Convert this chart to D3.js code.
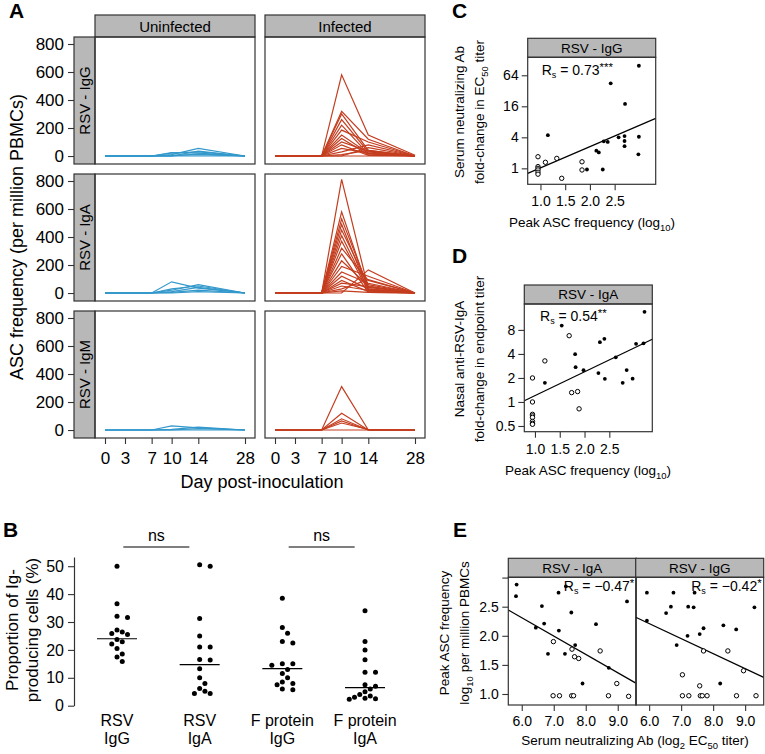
<!DOCTYPE html>
<html>
<head>
<meta charset="utf-8">
<script src="https://cdn.jsdelivr.net/npm/d3@7"></script>
<style>
body { margin: 0; background: #fff; }
svg { font-family: "Liberation Sans", Arial, Helvetica, sans-serif; }
</style>
</head>
<body>
<svg id="fig" width="765" height="754"></svg>
<script>
// ---- Panel A: ASC frequency per subject over time ----
const days = [0, 3, 7, 10, 14, 28];
const groups = ["Uninfected", "Infected"];
const isotypes = ["RSV - IgG", "RSV - IgA", "RSV - IgM"];
const aTicks = [0, 200, 400, 600, 800];

const uninfIgG = [
    [0, 0, 0, 25, 20, 0],
    [0, 0, 0, 10, 55, 0],
    [0, 0, 0, 20, 30, 0],
    [0, 0, 0, 0, 15, 0],
    [0, 0, 0, 5, 10, 0],
    [0, 0, 0, 0, 35, 0],
    [0, 0, 0, 0, 0, 0]
];
const uninfIgA = [
    [0, 0, 0, 80, 35, 0],
    [0, 0, 0, 20, 60, 0],
    [0, 0, 0, 30, 50, 0],
    [0, 0, 0, 10, 40, 0],
    [0, 0, 0, 5, 20, 0],
    [0, 0, 0, 0, 10, 0]
];
const uninfIgM = [
    [0, 0, 0, 30, 15, 0],
    [0, 0, 0, 5, 20, 0],
    [0, 0, 0, 0, 10, 0],
    [0, 0, 0, 0, 0, 0]
];
const infIgG = [
    [0, 0, 0, 580, 150, 5],
    [0, 0, 0, 320, 120, 0],
    [0, 0, 0, 300, 40, 0],
    [0, 0, 0, 260, 30, 0],
    [0, 0, 0, 220, 15, 0],
    [0, 0, 0, 185, 100, 0],
    [0, 0, 0, 150, 20, 0],
    [0, 0, 0, 125, 10, 0],
    [0, 0, 0, 100, 35, 0],
    [0, 0, 0, 80, 5, 0],
    [0, 0, 0, 55, 20, 0],
    [0, 0, 0, 30, 80, 0],
    [0, 0, 0, 10, 40, 0],
    [0, 0, 0, 0, 60, 0],
    [0, 0, 0, 0, 0, 0]
];
const infIgA = [
    [0, 0, 0, 812, 30, 0],
    [0, 0, 0, 580, 20, 0],
    [0, 0, 0, 530, 40, 0],
    [0, 0, 0, 490, 10, 0],
    [0, 0, 0, 450, 60, 0],
    [0, 0, 0, 410, 25, 0],
    [0, 0, 0, 370, 15, 0],
    [0, 0, 0, 320, 90, 0],
    [0, 0, 0, 280, 5, 0],
    [0, 0, 0, 230, 50, 0],
    [0, 0, 0, 190, 120, 0],
    [0, 0, 0, 150, 70, 0],
    [0, 0, 0, 120, 30, 0],
    [0, 0, 0, 90, 10, 0],
    [0, 0, 0, 70, 45, 0],
    [0, 0, 0, 50, 20, 0],
    [0, 0, 0, 30, 95, 0],
    [0, 0, 0, 15, 5, 0],
    [0, 0, 0, 0, 165, 0]
];
const infIgM = [
    [0, 0, 0, 310, 0, 0],
    [0, 0, 0, 120, 0, 0],
    [0, 0, 0, 80, 0, 0],
    [0, 0, 0, 65, 0, 0],
    [0, 0, 0, 50, 5, 0],
    [0, 0, 0, 0, 0, 0]
];

// ---- Panel B: proportion of Ig-producing cells ----
const bCategories = [["RSV", "IgG"], ["RSV", "IgA"], ["F protein", "IgG"], ["F protein", "IgA"]];
const rsvIgG = [50, 36.5, 32.1, 31.6, 27.1, 26.4, 25.9, 25.5, 23.7, 22.9, 22.1, 20.5, 18.5, 17.5, 15.8];
const rsvIgA = [50.5, 50, 31.3, 25, 21, 21, 16.6, 16.4, 13.2, 10, 8, 6.2, 5.2, 4.4, 4.4];
const fIgG = [38.5, 28, 26, 23, 22.5, 15, 15, 14.5, 13, 11.5, 10, 8.5, 8, 7.5, 6, 5.7];
const fIgA = [34, 23, 20, 16.5, 12, 12, 7.5, 7, 6, 5, 4, 3.5, 3, 2.7, 2.5, 2.3];
const bMedians = [24, 14.7, 13.3, 6.5];
const bTicks = [0, 10, 20, 30, 40, 50];
const bPairs = [[0, 1], [2, 3]];
const bPairLabels = ["ns", "ns"];

// ---- Panel C: serum neutralizing Ab vs peak IgG ASC ----
const cOpen = [[0.95, 1.68], [0.95, 1.08], [0.95, 1.0], [0.95, 0.93], [0.95, 0.84], [0.95, 0.77],
    [1.1, 1.31], [1.33, 1.56], [1.43, 0.64], [1.84, 1.34], [1.84, 0.93]];
const cFilled = [[1.15, 4.4], [1.94, 0.95], [2.13, 2.2], [2.18, 2.04], [2.26, 0.95], [2.28, 3.34],
    [2.36, 3.25], [2.42, 44.6], [2.58, 4.0], [2.70, 4.23], [2.70, 3.39], [2.70, 2.69],
    [2.71, 17.8], [2.99, 98], [2.99, 4.1], [2.98, 1.87]];
const cFit = [-1.34, 1.37];          // log2(y) = a + b x
const cRs = ["0.73", "***"];
const cXTicks = [1.0, 1.5, 2.0, 2.5];
const cYTicks = [1, 4, 16, 64];

// ---- Panel D: nasal IgA vs peak IgA ASC ----
const dOpen = [[0.95, 2.0], [0.95, 1.0], [0.95, 0.70], [0.95, 0.67], [0.95, 0.64], [0.95, 0.57],
    [0.95, 0.54], [0.95, 0.525], [1.2, 3.27], [1.69, 6.77], [1.74, 1.31], [1.86, 1.35], [1.89, 0.82]];
const dFilled = [[1.2, 1.74], [1.54, 9.06], [1.81, 3.97], [1.82, 2.73], [1.98, 2.5], [2.28, 2.3],
    [2.31, 5.62], [2.40, 6.19], [2.41, 1.95], [2.63, 3.63], [2.77, 1.74], [2.85, 2.51],
    [2.97, 1.96], [3.04, 5.35], [3.19, 5.43], [3.21, 13.5]];
const dFit = [-0.723, 0.99];
const dRs = ["0.54", "**"];
const dXTicks = [1.0, 1.5, 2.0, 2.5];
const dYTicks = [0.5, 1, 2, 4, 8];

// ---- Panel E: peak ASC vs serum neutralizing Ab ----
const eTitles = ["RSV - IgA", "RSV - IgG"];
const eIgAFilled = [[5.84, 2.88], [5.82, 2.68], [6.63, 2.51], [6.44, 2.14], [6.70, 2.21], [6.82, 1.69],
    [7.15, 2.74], [7.16, 2.09], [7.38, 2.85], [7.35, 1.69], [7.55, 2.40], [7.67, 1.84],
    [8.32, 2.20], [7.90, 1.18], [8.72, 1.45], [9.29, 2.59]];
const eIgAOpen = [[6.99, 1.90], [7.57, 1.77], [7.65, 1.64], [7.78, 1.61], [8.45, 1.74], [8.97, 1.18],
    [6.98, 0.97], [7.18, 0.97], [7.56, 0.97], [7.62, 0.97], [8.71, 0.97], [9.34, 0.96]];
const eIgGFilled = [[5.93, 2.74], [5.93, 2.26], [6.53, 2.39], [6.68, 2.50], [6.76, 2.74], [6.86, 1.84],
    [7.20, 2.0], [7.22, 2.50], [7.39, 2.49], [7.42, 2.74], [7.58, 2.03], [7.70, 2.13],
    [8.32, 2.18], [8.72, 2.11], [8.22, 1.18], [9.29, 2.49]];
const eIgGOpen = [[7.04, 1.33], [7.58, 1.14], [7.70, 1.74], [8.46, 1.74], [8.95, 1.40],
    [7.04, 0.97], [7.24, 0.97], [7.60, 0.97], [7.66, 0.97], [7.81, 0.97], [8.73, 0.97], [9.34, 0.97]];
const eFits = [[4.20, -0.315], [3.757, -0.258]];   // y = a + b x
const eRs = [["\u22120.47", "*"], ["\u22120.42", "*"]];
const eXTicks = [6, 7, 8, 9];
const eYTicks = [1.0, 1.5, 2.0, 2.5, 3.0];

const stripFill = "#b8b8b8";
const frameColor = "#333";
const blue = "#3398cb";
const red = "#c43d1f";

const svg = d3.select("#fig");

function panelLabel(g, x, y, txt) {
    g.append("text").attr("x", x).attr("y", y)
        .attr("font-size", 21).attr("font-weight", "bold").text(txt);
}

function styleAxis(sel, size) {
    sel.select(".domain").remove();
    sel.selectAll(".tick line").attr("stroke", frameColor).attr("stroke-width", 1.1);
    sel.selectAll(".tick text").attr("font-size", size).attr("fill", "#000");
    sel.attr("font-family", null);
}

function rsLabel(g, x, y, value, stars, anchor) {
    const t = g.append("text").attr("x", x).attr("y", y)
        .attr("font-size", 14).attr("text-anchor", anchor);
    t.append("tspan").text("R");
    t.append("tspan").attr("font-size", 9).attr("dy", 3).text("s");
    t.append("tspan").attr("dy", -3).text(" = " + value);
    t.append("tspan").attr("font-size", 11.5).attr("dy", -4).text(stars);
}

// text with subscript pieces: parts = [[text, isSub], ...]
function richText(g, parts, size) {
    const t = g.append("text").attr("font-size", size).attr("text-anchor", "middle");
    let down = false;
    parts.forEach(p => {
        const s = t.append("tspan").text(p[0]);
        if (p[1] && !down) { s.attr("font-size", size * 0.7).attr("dy", size * 0.3); down = true; }
        else if (p[1]) { s.attr("font-size", size * 0.7); }
        else if (down) { s.attr("dy", -size * 0.3); down = false; }
    });
    return t;
}

function drawPanelA() {
    const panelW = 160, panelH = 127;
    const colX = [95, 265];
    const rowY = [37, 174, 311];
    // day axis is stretched up to day 14, compressed after
    const x = d3.scaleLinear().domain([0, 14, 28]).range([10, 103.3, 150]);
    const y = d3.scaleLinear().domain([-57, 850]).range([panelH, 0]);
    const line = d3.line().x((d, i) => x(days[i])).y(d => y(d));
    const series = {
        Uninfected: [uninfIgG, uninfIgA, uninfIgM],
        Infected: [infIgG, infIgA, infIgM]
    };
    const colors = { Uninfected: blue, Infected: red };

    const g = svg.append("g");
    panelLabel(g, 9, 18, "A");

    groups.forEach((grp, c) => {
        g.append("rect").attr("x", colX[c]).attr("y", 15).attr("width", panelW).attr("height", 22)
            .attr("fill", stripFill).attr("stroke", frameColor).attr("stroke-width", 1.2);
        g.append("text").attr("x", colX[c] + panelW / 2).attr("y", 31.5)
            .attr("text-anchor", "middle").attr("font-size", 15).text(grp);
    });

    isotypes.forEach((iso, r) => {
        const row = g.append("g").attr("transform", `translate(0,${rowY[r]})`);
        row.append("rect").attr("x", 74).attr("y", 0).attr("width", 21).attr("height", panelH)
            .attr("fill", stripFill).attr("stroke", frameColor).attr("stroke-width", 1.2);
        row.append("text").attr("transform", `translate(90,${panelH / 2}) rotate(-90)`)
            .attr("text-anchor", "middle").attr("font-size", 15).text(iso);

        const yAxis = row.append("g").attr("transform", "translate(74,0)")
            .call(d3.axisLeft(y).tickValues(aTicks).tickSize(6).tickPadding(4));
        styleAxis(yAxis, 17);

        groups.forEach((grp, c) => {
            const p = row.append("g").attr("transform", `translate(${colX[c]},0)`);
            p.selectAll("path.subject")
                .data(series[grp][r])
                .enter()
                .append("path")
                .attr("class", "subject")
                .attr("d", line)
                .attr("fill", "none")
                .attr("stroke", colors[grp])
                .attr("stroke-width", 1.2);
            p.append("rect").attr("width", panelW).attr("height", panelH)
                .attr("fill", "none").attr("stroke", frameColor).attr("stroke-width", 1.2);
        });
    });

    groups.forEach((grp, c) => {
        const xa = g.append("g").attr("transform", `translate(${colX[c]},${rowY[2] + panelH})`)
            .call(d3.axisBottom(x).tickValues(days).tickSize(6).tickPadding(8));
        styleAxis(xa, 17);
    });

    g.append("text").attr("x", 262).attr("y", 488).attr("text-anchor", "middle")
        .attr("font-size", 18).text("Day post-inoculation");
    g.append("text").attr("transform", "translate(23,237) rotate(-90)")
        .attr("text-anchor", "middle").attr("font-size", 18)
        .text("ASC frequency (per million PBMCs)");
}

// simple beeswarm: nudge points sideways until they don't overlap
function dodge(values, y, r) {
    const placed = [];
    return values.map(v => {
        const py = y(v);
        let k = 0, off = 0;
        while (true) {
            off = (k % 2 === 1 ? 1 : -1) * Math.ceil(k / 2) * r * 2.1;
            if (placed.every(p => Math.hypot(p[0] - off, p[1] - py) >= 2 * r + 0.6)) break;
            k++;
        }
        placed.push([off, py]);
        return [off, py];
    });
}

function drawPanelB() {
    const g = svg.append("g");
    panelLabel(g, 3, 537, "B");
    const y = d3.scaleLinear().domain([0, 53.3]).range([705.7, 557]);
    const x = d3.scalePoint().domain(d3.range(bCategories.length)).range([117, 365]);
    const sets = [rsvIgG, rsvIgA, fIgG, fIgA];

    const ya = g.append("g").attr("transform", "translate(74,0)")
        .call(d3.axisLeft(y).tickValues(bTicks).tickSize(6).tickSizeOuter(0).tickPadding(4));
    ya.select(".domain").attr("stroke", frameColor).attr("stroke-width", 1.2);
    ya.selectAll(".tick line").attr("stroke", frameColor).attr("stroke-width", 1.1);
    ya.selectAll(".tick text").attr("font-size", 16).attr("fill", "#000");
    ya.attr("font-family", null);

    sets.forEach((vals, i) => {
        const pts = dodge(vals, y, 2.5);
        g.selectAll(null).data(pts).enter().append("circle")
            .attr("cx", d => x(i) + d[0]).attr("cy", d => d[1]).attr("r", 2.5).attr("fill", "#000");
        g.append("line").attr("x1", x(i) - 20).attr("x2", x(i) + 20)
            .attr("y1", y(bMedians[i])).attr("y2", y(bMedians[i]))
            .attr("stroke", "#000").attr("stroke-width", 1.2);
        const t = g.append("text").attr("text-anchor", "middle").attr("font-size", 16);
        t.append("tspan").attr("x", x(i)).attr("y", 725.5).text(bCategories[i][0]);
        t.append("tspan").attr("x", x(i)).attr("y", 743.5).text(bCategories[i][1]);
    });

    bPairs.forEach((pr, k) => {
        const mid = (x(pr[0]) + x(pr[1])) / 2 - 2;
        g.append("line").attr("x1", mid - 33).attr("x2", mid + 33).attr("y1", 547).attr("y2", 547)
            .attr("stroke", "#000").attr("stroke-width", 1.2);
        g.append("text").attr("x", mid).attr("y", 541).attr("text-anchor", "middle")
            .attr("font-size", 16).text(bPairLabels[k]);
    });

    const t = g.append("text").attr("transform", "translate(0,630) rotate(-90)")
        .attr("text-anchor", "middle").attr("font-size", 17);
    t.append("tspan").attr("x", 0).attr("y", 17.5).text("Proportion of Ig-");
    t.append("tspan").attr("x", 0).attr("y", 37.5).text("producing cells (%)");
}

function drawFacet(g, o) {
    g.append("rect").attr("x", o.left).attr("y", o.top).attr("width", o.right - o.left)
        .attr("height", o.stripBottom - o.top)
        .attr("fill", stripFill).attr("stroke", frameColor).attr("stroke-width", 1.2);
    g.append("text").attr("x", (o.left + o.right) / 2).attr("y", (o.top + o.stripBottom) / 2 + 4.8)
        .attr("text-anchor", "middle").attr("font-size", 13.5).text(o.title);

    const dom = o.x.domain();
    g.append("line")
        .attr("x1", o.x(dom[0])).attr("y1", o.y(o.fit(dom[0])))
        .attr("x2", o.x(dom[1])).attr("y2", o.y(o.fit(dom[1])))
        .attr("stroke", "#000").attr("stroke-width", 1.2);

    g.selectAll(null).data(o.open).enter().append("circle")
        .attr("cx", d => o.x(d[0])).attr("cy", d => o.y(d[1])).attr("r", 2.2)
        .attr("fill", "#fff").attr("stroke", "#000").attr("stroke-width", 1);
    g.selectAll(null).data(o.filled).enter().append("circle")
        .attr("cx", d => o.x(d[0])).attr("cy", d => o.y(d[1])).attr("r", 1.9)
        .attr("fill", "#000");

    g.append("rect").attr("x", o.left).attr("y", o.stripBottom).attr("width", o.right - o.left)
        .attr("height", o.bottom - o.stripBottom)
        .attr("fill", "none").attr("stroke", frameColor).attr("stroke-width", 1.2);
}

function drawPanelC() {
    const g = svg.append("g");
    panelLabel(g, 452, 18, "C");
    const o = { left: 527.7, right: 655.7, top: 38.3, stripBottom: 57.3, bottom: 184.3, title: "RSV - IgG" };
    o.x = d3.scaleLinear().domain([0.742, 3.33]).range([o.left, o.right]);
    o.y = d3.scaleLog().base(2).domain([0.49, 143]).range([o.bottom, o.stripBottom]);
    o.fit = v => Math.pow(2, cFit[0] + cFit[1] * v);
    o.open = cOpen; o.filled = cFilled;
    drawFacet(g, o);

    const ya = g.append("g").attr("transform", `translate(${o.left},0)`)
        .call(d3.axisLeft(o.y).tickValues(cYTicks).tickFormat(d3.format("d")).tickSize(6).tickPadding(3));
    styleAxis(ya, 14);
    const xa = g.append("g").attr("transform", `translate(0,${o.bottom})`)
        .call(d3.axisBottom(o.x).tickValues(cXTicks).tickFormat(d3.format(".1f")).tickSize(6).tickPadding(6));
    styleAxis(xa, 14);

    rsLabel(g, 541.7, 75, cRs[0], cRs[1], "start");

    const yl = g.append("g").attr("transform", "translate(0,112) rotate(-90)");
    yl.append("text").attr("y", 464).attr("text-anchor", "middle").attr("font-size", 13.5)
        .text("Serum neutralizing Ab");
    richText(yl, [["fold-change in EC"], ["50", true], [" titer"]], 13.5).attr("y", 484);
    richText(g, [["Peak ASC frequency (log"], ["10", true], [")"]], 13.5)
        .attr("x", 592).attr("y", 227);
}

function drawPanelD() {
    const g = svg.append("g");
    panelLabel(g, 452, 263, "D");
    const o = { left: 524.3, right: 652.3, top: 285, stripBottom: 304, bottom: 431.7, title: "RSV - IgA" };
    o.x = d3.scaleLinear().domain([0.785, 3.367]).range([o.left, o.right]);
    o.y = d3.scaleLog().base(2).domain([0.424, 16.9]).range([o.bottom, o.stripBottom]);
    o.fit = v => Math.pow(2, dFit[0] + dFit[1] * v);
    o.open = dOpen; o.filled = dFilled;
    drawFacet(g, o);

    const ya = g.append("g").attr("transform", `translate(${o.left},0)`)
        .call(d3.axisLeft(o.y).tickValues(dYTicks).tickFormat(d => String(d)).tickSize(6).tickPadding(3));
    styleAxis(ya, 14);
    const xa = g.append("g").attr("transform", `translate(0,${o.bottom})`)
        .call(d3.axisBottom(o.x).tickValues(dXTicks).tickFormat(d3.format(".1f")).tickSize(6).tickPadding(6));
    styleAxis(xa, 14);

    rsLabel(g, 540, 321, dRs[0], dRs[1], "start");

    const yl = g.append("g").attr("transform", "translate(0,359) rotate(-90)");
    yl.append("text").attr("y", 464).attr("text-anchor", "middle").attr("font-size", 13.5)
        .text("Nasal anti-RSV-IgA");
    yl.append("text").attr("y", 484).attr("text-anchor", "middle").attr("font-size", 13.5)
        .text("fold-change in endpoint titer");
    richText(g, [["Peak ASC frequency (log"], ["10", true], [")"]], 13.5)
        .attr("x", 588).attr("y", 475);
}

function drawPanelE() {
    const g = svg.append("g");
    panelLabel(g, 453, 537, "E");
    const lefts = [508.3, 635.7], width = 128;
    const top = 558.3, stripBottom = 577.3, bottom = 705;
    const y = d3.scaleLinear().domain([0.811, 3.005]).range([bottom, stripBottom]);
    const opens = [eIgAOpen, eIgGOpen];
    const filleds = [eIgAFilled, eIgGFilled];

    eTitles.forEach((title, k) => {
        const x = d3.scaleLinear().domain([5.58, 9.58]).range([lefts[k], lefts[k] + width]);
        const o = {
            left: lefts[k], right: lefts[k] + width, top: top, stripBottom: stripBottom, bottom: bottom,
            title: title, x: x, y: y, open: opens[k], filled: filleds[k],
            fit: v => eFits[k][0] + eFits[k][1] * v
        };
        drawFacet(g, o);
        const xa = g.append("g").attr("transform", `translate(0,${bottom})`)
            .call(d3.axisBottom(x).tickValues(eXTicks).tickSize(6).tickPadding(5.5));
        styleAxis(xa, 14);
        rsLabel(g, o.right - 2, 591, eRs[k][0], eRs[k][1], "end");
    });

    const ya = g.append("g").attr("transform", `translate(${lefts[0]},0)`)
        .call(d3.axisLeft(y).tickValues(eYTicks)
            .tickFormat(d => d === 3 ? "" : d3.format(".1f")(d)).tickSize(6).tickPadding(3.5));
    styleAxis(ya, 14);

    const yl = g.append("g").attr("transform", "translate(0,633) rotate(-90)");
    yl.append("text").attr("y", 449).attr("text-anchor", "middle").attr("font-size", 13.5)
        .text("Peak ASC frequency");
    richText(yl, [["log"], ["10", true], [" per million PBMCs"]], 13.5).attr("y", 469);
    richText(g, [["Serum neutralizing Ab (log"], ["2", true], [" EC"], ["50", true], [" titer)"]], 13.5)
        .attr("x", 635).attr("y", 745);
}

drawPanelA();
drawPanelB();
drawPanelC();
drawPanelD();
drawPanelE();
</script>
</body>
</html>
